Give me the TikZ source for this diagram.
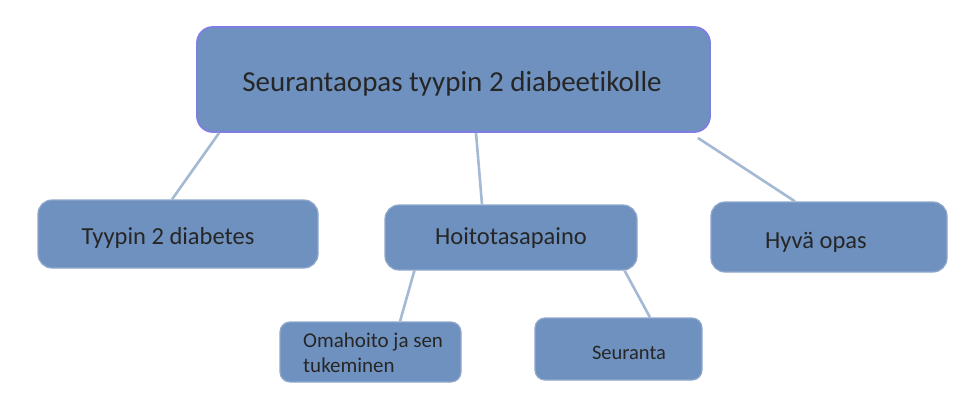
\documentclass[tikz,border=0pt]{standalone}
\usepackage{fontspec}
\setmainfont{Carlito}[Ligatures=NoCommon]
\usetikzlibrary{calc}
\definecolor{boxfill}{HTML}{6F91BF}
\definecolor{boxedge}{HTML}{8FA8CC}
\definecolor{topedge}{HTML}{7D7DE4}
\definecolor{linkc}{HTML}{A3B9D4}
\definecolor{txtc}{HTML}{262626}
\tikzset{
  box/.style={fill=boxfill, draw=boxedge, line width=1.2pt, rounded corners=14pt, inner sep=0pt},
  topbox/.style={box, draw=topedge, line width=1.8pt, rounded corners=16pt},
  lbl/.style={text=txtc, inner sep=0pt, anchor=center},
  link/.style={draw=linkc, line width=2.6pt},
}
\begin{document}
\begin{tikzpicture}[x=1pt, y=-1pt]
\useasboundingbox (0,0) rectangle (959,408);
% boxes
\node[topbox, minimum width=513pt, minimum height=105pt] (top) at (453.5,79.5) {};
\node[box, minimum width=280pt, minimum height=68pt] (t1) at (178,234) {};
\node[box, minimum width=252pt, minimum height=65pt] (t2) at (511,237.5) {};
\node[box, minimum width=236pt, minimum height=70pt] (t3) at (829,237) {};
\node[box, minimum width=181pt, minimum height=60pt, rounded corners=10pt] (t4) at (370.5,352) {};
\node[box, minimum width=167pt, minimum height=62pt, rounded corners=10pt] (t5) at (618.5,349) {};
% connectors
\draw[link] ($(top.south west)+(23,0)$) -- ($(t1.north)+(-6,0)$);
\draw[link] ($(top.south)+(22.5,0)$) -- ($(t2.north)+(-29,0)$);
\draw[link] ($(top.south east)+(-13,5)$) -- ($(t3.north)+(-34,0)$);
\draw[link] ($(t2.south west)+(30,0)$) -- ($(t4.north)+(29.5,0)$);
\draw[link] ($(t2.south east)+(-13,0)$) -- ($(t5.north)+(31.5,0)$);
% labels
\node[lbl, font=\fontsize{29}{34}\selectfont] (l0) at (452,84) {Seurantaopas tyypin 2 diabeetikolle};
\node[lbl, font=\fontsize{24.5}{29}\selectfont] (l1) at (168,238) {Tyypin 2 diabetes};
\node[lbl, font=\fontsize{24.5}{29}\selectfont] (l2) at (511,238) {Hoitotasapaino};
\node[lbl, font=\fontsize{24.5}{29}\selectfont] (l3) at (816,242) {Hyvä opas};
\node[lbl, anchor=west, align=left, font=\fontsize{21}{25.5}\selectfont] (l4) at (303,353) {Omahoito ja sen\\tukeminen};
\node[lbl, font=\fontsize{20.5}{24}\selectfont] (l5) at (629,353) {Seuranta};
\end{tikzpicture}
\end{document}
